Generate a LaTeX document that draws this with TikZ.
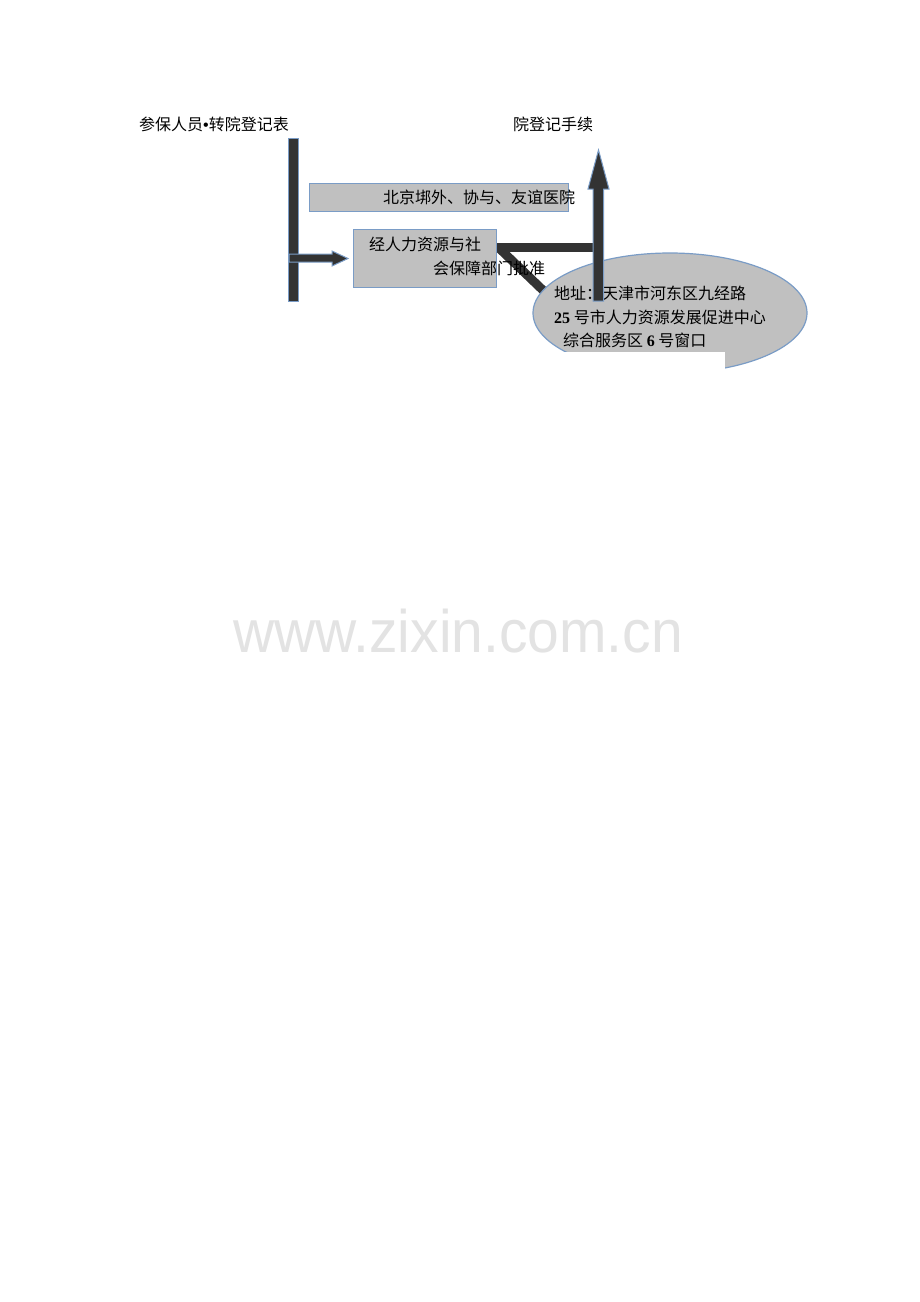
\documentclass[tikz,border=0pt]{standalone}
\usepackage{fontspec}
\setmainfont{Liberation Serif}
\newfontfamily\cjk{Noto Sans CJK SC}
\newfontfamily\wmfont{Liberation Sans}
\definecolor{barcol}{HTML}{333333}
\definecolor{edgecol}{HTML}{7A9CC6}
\definecolor{boxgray}{HTML}{C0C0C0}
\definecolor{wmgray}{HTML}{E3E3E3}
\begin{document}
\begin{tikzpicture}[x=1pt,y=-1pt,
  txt/.style={anchor=west,inner sep=0pt,font=\cjk\fontsize{16}{16}\selectfont},
  boxshape/.style={draw=edgecol,fill=boxgray,line width=1.2pt,inner sep=0pt,anchor=north west},
  barshape/.style={fill=barcol,draw=edgecol,line width=1pt,line join=miter}]
\useasboundingbox (0,0) rectangle (920,1302);
\fill[white] (0,0) rectangle (920,1302);

% titles
\node[txt] (tleft) at (139,124) {参保人员{\rmfamily\bfseries •}转院登记表};
\node[txt] (tright) at (513,124) {院登记手续};

% left vertical bar and arrow
\draw[barshape] (288,138) rectangle (298,301);
\draw[barshape] (289,254) -- (332,254) -- (332,251) -- (348,258.5) -- (332,266) -- (332,262) -- (289,262) -- cycle;

% boxes
\node[boxshape, minimum width=259pt, minimum height=28pt] (hosp) at (309,183) {};
\node[txt] (hosptext) at (383,197) {北京垹外、协与、友谊医院};
\node[boxshape, minimum width=143pt, minimum height=58pt] (dept) at (353,229) {};

% connector bars from dept
\fill[barcol] (dept.east |- 0,243) rectangle (594,252);
\draw[barcol, line width=9pt] (500,249) -- (550,297);

\node[txt] (dept1) at (369,244) {经人力资源与社};
\node[txt] (dept2) at (433,268) {会保障部门批准};

% address ellipse
\fill[boxgray, draw=edgecol, line width=1.2pt] (670,313) ellipse [x radius=137, y radius=60];
\coordinate (addr) at (670,313);
\fill[white] (526,352) rectangle (725,380);
\node[txt] (a1) at (554,293) {地址：天津市河东区九经路};
\node[txt] (a2) at (554,317) {{\rmfamily\bfseries 25} 号市人力资源发展促进中心};
\node[txt] (a3) at (563,340) {综合服务区 {\rmfamily\bfseries 6} 号窗口};

% vertical arrow up
\draw[barshape] (593,301) -- (593,189) -- (588,189) -- (598.5,150) -- (609,189) -- (603.5,189) -- (603.5,301) -- cycle;

% watermark
\node[anchor=base west, inner sep=0pt, text=wmgray, font=\wmfont\fontsize{60}{60}\selectfont] (wm) at (233,652) {\scalebox{0.95}[1]{www.zixin.com.cn}};
\end{tikzpicture}
\end{document}
